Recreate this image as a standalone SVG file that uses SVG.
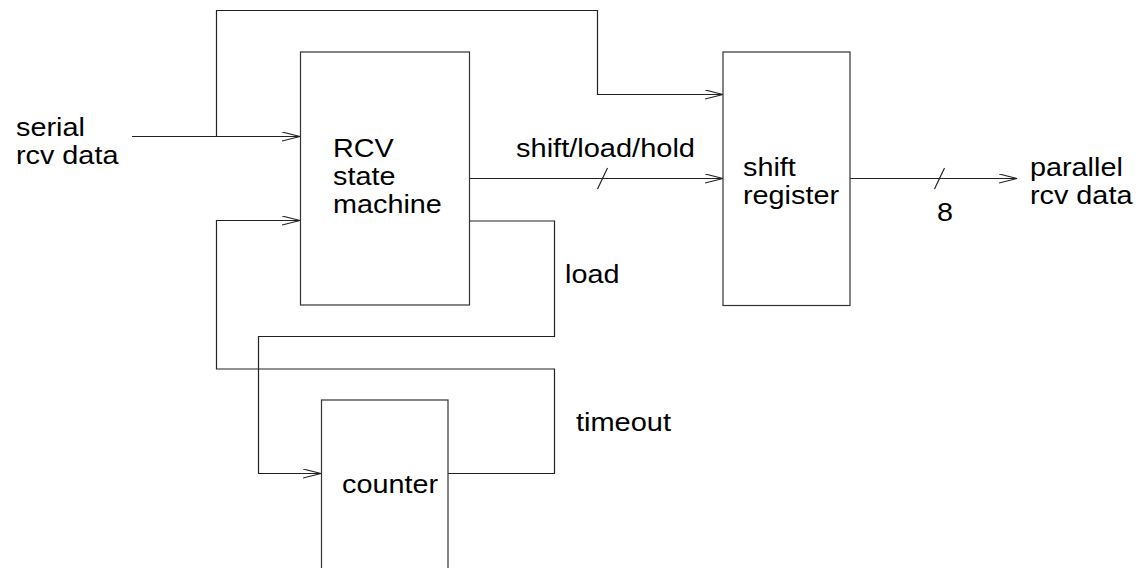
<svg xmlns="http://www.w3.org/2000/svg" width="1140" height="568" viewBox="0 0 1140 568">
<style>
  .box { fill: #fff; stroke: #333; stroke-width: 1.2; }
  .wire { fill: none; stroke: #222; stroke-width: 1.2; }
  text { font-family: "Liberation Sans", Arial, sans-serif; font-size: 26px; fill: #000; }
</style>
<defs>
  <marker id="arr" markerUnits="userSpaceOnUse" markerWidth="20" markerHeight="12" refX="18" refY="5" orient="auto">
    <path d="M0,0.5 L18,5 L0,9.5" fill="none" stroke="#222" stroke-width="1.2"/>
  </marker>
</defs>
<rect width="1140" height="568" fill="#fff"/>
<g id="connectors">
  <path class="wire" d="M132,136.5 L300,136.5" marker-end="url(#arr)"/>
  <path class="wire" d="M216.5,136.5 L216.5,10.5 L597.5,10.5 L597.5,94.5 L723,94.5" marker-end="url(#arr)"/>
  <path class="wire" d="M470,178.5 L723,178.5" marker-end="url(#arr)"/>
  <path class="wire" d="M597.5,189 L607.5,168"/>
  <path class="wire" d="M850,178.5 L1017,178.5" marker-end="url(#arr)"/>
  <path class="wire" d="M934.5,189 L944.5,168"/>
  <path class="wire" d="M470,221 L554.5,221 L554.5,336.5 L258.5,336.5 L258.5,473.5 L321,473.5" marker-end="url(#arr)"/>
  <path class="wire" d="M448,473.5 L554.5,473.5 L554.5,369 L216.5,369 L216.5,220.5 L300,220.5" marker-end="url(#arr)"/>
</g>
<g id="rcv">
  <rect class="box" x="300.5" y="52" width="169" height="253"/>
  <text><tspan x="333" y="157" textLength="60.8" lengthAdjust="spacingAndGlyphs">RCV</tspan><tspan x="333" y="185" textLength="62.4" lengthAdjust="spacingAndGlyphs">state</tspan><tspan x="333" y="213" textLength="108.8" lengthAdjust="spacingAndGlyphs">machine</tspan></text>
</g>
<g id="shiftreg">
  <rect class="box" x="723" y="52" width="127" height="253.5"/>
  <text><tspan x="743" y="176" textLength="52.8" lengthAdjust="spacingAndGlyphs">shift</tspan><tspan x="743" y="204" textLength="96" lengthAdjust="spacingAndGlyphs">register</tspan></text>
</g>
<g id="counter">
  <rect class="box" x="321.5" y="400" width="126.5" height="190"/>
  <text x="342" y="493" textLength="96" lengthAdjust="spacingAndGlyphs">counter</text>
</g>
<g id="labels">
  <text><tspan x="16" y="135.5" textLength="68.8" lengthAdjust="spacingAndGlyphs">serial</tspan><tspan x="16" y="163.5" textLength="102.4" lengthAdjust="spacingAndGlyphs">rcv data</tspan></text>
  <text x="516" y="157" textLength="179" lengthAdjust="spacingAndGlyphs">shift/load/hold</text>
  <text x="565" y="283" textLength="54.4" lengthAdjust="spacingAndGlyphs">load</text>
  <text x="576" y="431" textLength="95" lengthAdjust="spacingAndGlyphs">timeout</text>
  <text x="937" y="221" textLength="16" lengthAdjust="spacingAndGlyphs">8</text>
  <text><tspan x="1030" y="176" textLength="92.8" lengthAdjust="spacingAndGlyphs">parallel</tspan><tspan x="1030" y="204" textLength="102.4" lengthAdjust="spacingAndGlyphs">rcv data</tspan></text>
</g>
</svg>
